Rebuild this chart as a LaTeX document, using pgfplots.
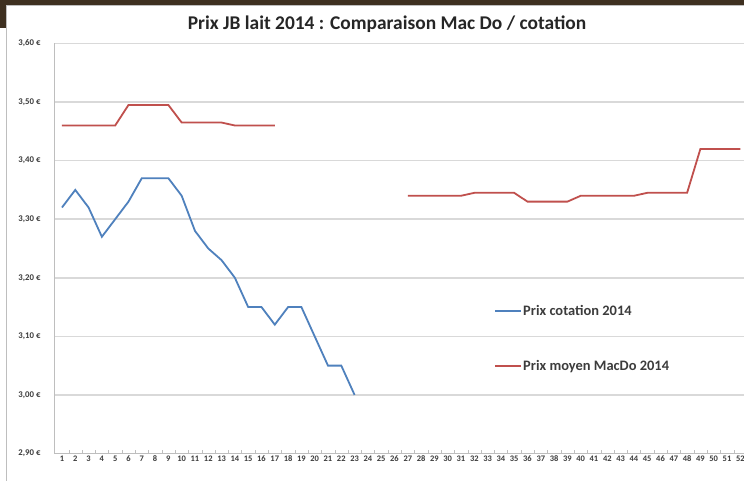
\documentclass[border=0pt]{standalone}
\usepackage{fontspec}
\setmainfont{Carlito}
\usepackage{pgfplots}
\pgfplotsset{compat=1.18}
\definecolor{xlblue}{RGB}{79,129,189}
\definecolor{xlred}{RGB}{192,80,77}
\definecolor{gridgray}{RGB}{217,217,217}
\definecolor{axgray}{RGB}{190,190,190}
\definecolor{txtgray}{RGB}{60,60,60}
\definecolor{bgdark}{RGB}{62,48,32}
\begin{document}
\begin{tikzpicture}[x=1bp,y=1bp]
\useasboundingbox (0,0) rectangle (744,481);
\fill[white] (0,0) rectangle (744,481);
\fill[bgdark] (0,475) rectangle (744,481);
\fill[bgdark] (0,453) rectangle (6,481);
\draw[axgray,line width=1bp] (6.5,0) -- (6.5,475.5) -- (744,475.5);
\node[font=\bfseries\fontsize{19.5}{22}\selectfont, text=black!85] at (387,457) {Prix JB lait 2014 : Comparaison Mac Do / cotation};
\begin{axis}[
  at={(54bp,27.5bp)}, anchor=south west,
  scale only axis, width=690bp, height=410bp,
  xmin=0.4, xmax=52.28, ymin=2.9, ymax=3.6,
  axis x line*=bottom, axis y line*=left,
  axis line style={axgray, line width=1bp},
  /pgf/number format/assume math mode=true,
  xtick={1,...,52},
  xticklabel style={font=\bfseries\fontsize{8.5}{9}\selectfont, text=txtgray, inner sep=1bp, yshift=-1bp},
  major tick length=0pt,
  extra x ticks={1.5,2.5,...,51.5},
  extra x tick labels={},
  extra x tick style={grid=none, major tick length=3bp, tick style={axgray}},
  ytick={2.9,3.0,3.1,3.2,3.3,3.4,3.5,3.6},
  yticklabels={{2,90 €},{3,00 €},{3,10 €},{3,20 €},{3,30 €},{3,40 €},{3,50 €},{3,60 €}},
  yticklabel style={font=\bfseries\fontsize{8.8}{9}\selectfont, text=txtgray, xshift=-10bp},
  ymajorgrids, grid style={gridgray, line width=1.5bp},
  clip=false,
  legend style={draw=none, fill=none, at={(axis cs:33.5,3.155)}, anchor=north west,
    font=\bfseries\fontsize{14.5}{16}\selectfont, text=txtgray, row sep=41bp, inner sep=0pt,
    nodes={inner sep=1bp}},
  legend cell align=left,
  legend image code/.code={\draw[#1, line width=1.8bp] (0bp,0bp) -- (26bp,0bp);},
]
\addplot[xlblue, line width=1.8bp] coordinates {
(1,3.32) (2,3.35) (3,3.32) (4,3.27) (5,3.30) (6,3.33) (7,3.37) (8,3.37) (9,3.37)
(10,3.34) (11,3.28) (12,3.25) (13,3.23) (14,3.20) (15,3.15) (16,3.15) (17,3.12)
(18,3.15) (19,3.15) (20,3.10) (21,3.05) (22,3.05) (23,3.00)
};
\addlegendentry{Prix cotation 2014}
\addplot[xlred, line width=1.8bp, unbounded coords=jump] coordinates {
(1,3.46) (2,3.46) (3,3.46) (4,3.46) (5,3.46) (6,3.495) (7,3.495) (8,3.495) (9,3.495)
(10,3.465) (11,3.465) (12,3.465) (13,3.465) (14,3.46) (15,3.46) (16,3.46) (17,3.46)
(18,nan)
(27,3.34) (28,3.34) (29,3.34) (30,3.34) (31,3.34) (32,3.345) (33,3.345) (34,3.345) (35,3.345)
(36,3.33) (37,3.33) (38,3.33) (39,3.33) (40,3.34) (41,3.34) (42,3.34) (43,3.34) (44,3.34)
(45,3.345) (46,3.345) (47,3.345) (48,3.345) (49,3.42) (50,3.42) (51,3.42) (52,3.42)
};
\addlegendentry{Prix moyen MacDo 2014}
\end{axis}
\end{tikzpicture}
\end{document}
